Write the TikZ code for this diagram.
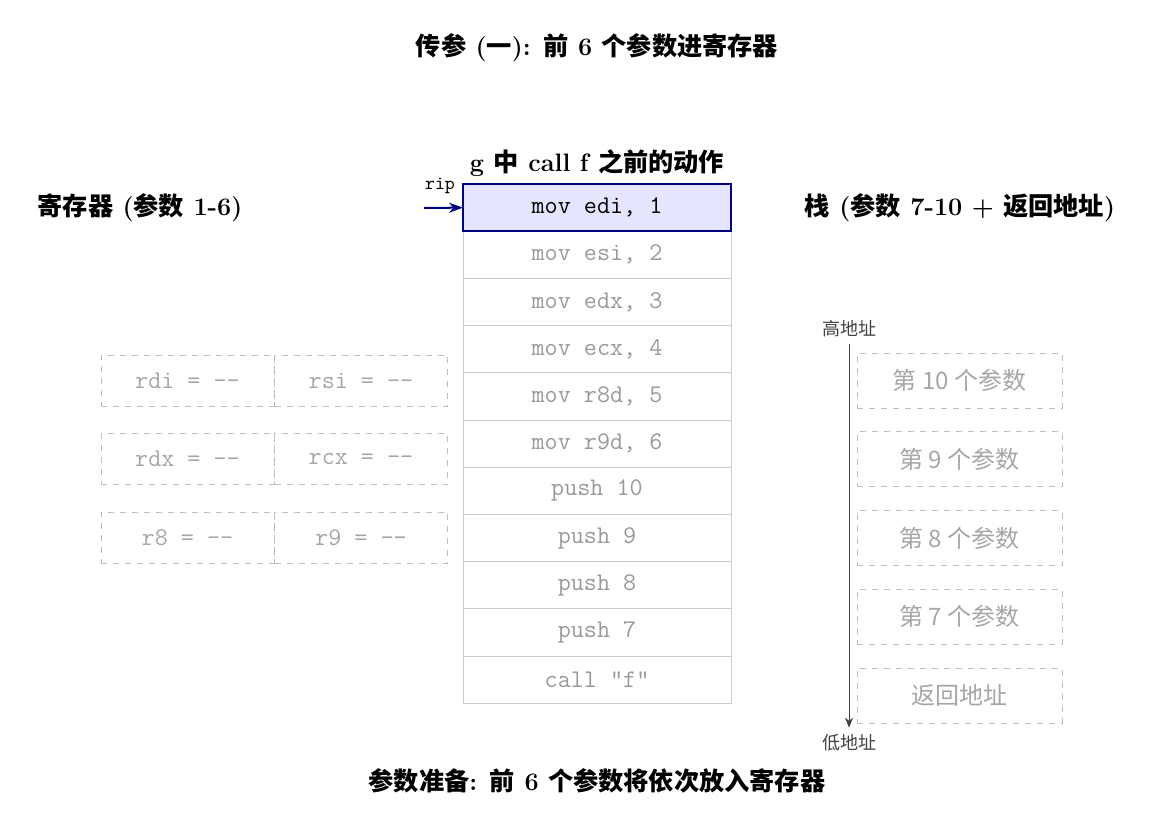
\documentclass[tikz,border=0pt]{standalone}
\usepackage{fontspec}
\newfontfamily\cjk{Noto Sans CJK SC}
\usetikzlibrary{arrows.meta}
\begin{document}
\begin{tikzpicture}[x=0.5pt,y=-0.5pt,
  ins/.style={draw=black!20,minimum width=134pt,minimum height=23.6pt,inner sep=0pt,outer sep=0pt,font=\fontsize{12.7}{14}\ttfamily,text=black!40},
  reg/.style={draw=black!25,dashed,minimum width=86.5pt,minimum height=25.5pt,inner sep=0pt,font=\fontsize{12.7}{14}\ttfamily,text=black!35},
  stk/.style={draw=black!25,dashed,minimum width=102.5pt,minimum height=27.5pt,inner sep=0pt,font=\fontsize{12}{14}\selectfont,text=black!35},
  ttl/.style={font=\fontsize{12.6}{15}\bfseries},
  sm/.style={font=\fontsize{9}{11}\selectfont,text=black!75}]
\useasboundingbox (0,0) rectangle (1155,832);
\node[ttl] (t) at (597,48) {{\cjk 传参} ({\cjk 一}): {\cjk 前} 6 {\cjk 个参数进寄存器}};
\node[ttl] (ct) at (597,163) {g {\cjk 中} call f {\cjk 之前的动作}};
\node[ttl] (lt) at (140,208) {{\cjk 寄存器} ({\cjk 参数} 1-6)};
\node[ttl] (rt) at (960,208) {{\cjk 栈} ({\cjk 参数} 7-10 + {\cjk 返回地址})};
\node[ttl] (bt) at (597,781) {{\cjk 参数准备}: {\cjk 前} 6 {\cjk 个参数将依次放入寄存器}};
\foreach \i/\t in {1/{mov edi, 1},2/{mov esi, 2},3/{mov edx, 3},4/{mov ecx, 4},5/{mov r8d, 5},6/{mov r9d, 6},7/{push 10},8/{push 9},9/{push 8},10/{push 7},11/{call "f"}}
  \node[ins] (i\i) at (597,{184+23.6+(\i-1)*47.2}) {\t};
\node[ins,draw=blue!50!black,fill=blue!10,text=black,line width=0.8pt] (i1) at (597,207.6) {mov edi, 1};
\node[font=\fontsize{9.5}{11}\ttfamily] (rip) at (440,186) {rip};
\coordinate (ra) at (424,208);
\draw[-{Stealth[length=7pt,width=5pt]},blue!50!black,line width=1pt] (ra) -- (i1.west);
\node[reg] (rdi) at (187.5,380.5) {rdi = --};
\node[reg] (rsi) at (361,380.5) {rsi = --};
\node[reg] (rdx) at (187.5,459) {rdx = --};
\node[reg] (rcx) at (361,459) {rcx = --};
\node[reg] (r8) at (187.5,537.5) {r8 = --};
\node[reg] (r9) at (361,537.5) {r9 = --};
\foreach \i/\t in {1/{第 10 个参数},2/{第 9 个参数},3/{第 8 个参数},4/{第 7 个参数},5/{返回地址}}
  \node[stk] (s\i) at (959.5,{380.5+(\i-1)*78.75}) {\cjk \t};
\node[sm] (hi) at (849,329) {\cjk 高地址};
\node[sm] (lo) at (849,743) {\cjk 低地址};
\draw[-{Stealth[length=5pt,width=4pt]},black!75] (hi.south) -- (lo.north);
\end{tikzpicture}
\end{document}
